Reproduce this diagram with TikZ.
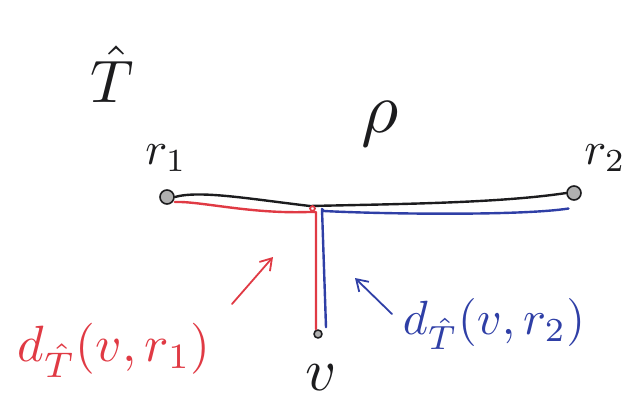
\documentclass[tikz,border=0pt]{standalone}
\usepackage{graphicx}
\usetikzlibrary{calc,arrows.meta}
\newcommand{\Ink}{2.4pt}
\newcommand{\Dot}{7}
\newcommand{\Scrawl}[2]{\scalebox{#1}{$#2$}}
\definecolor{pen}{HTML}{1C1C1E}
\definecolor{redpen}{HTML}{E03A44}
\definecolor{bluepen}{HTML}{2F3FA6}

\tikzset{
  hand/.style={inner sep=0pt},
  vertex/.style={circle, draw=pen, fill=pen!35, line width=1.6pt,
    minimum size=2*\Dot, inner sep=0pt},
  pointer/.style={line width=1.8pt, -{Straight Barb[length=11pt, width=14pt]}}
}

\begin{document}
\begin{tikzpicture}[x=1pt,y=-1pt, line join=round, line cap=round]
  \useasboundingbox (0,0) rectangle (643,405);

  % ---- the tree and its two ends ------------------------------------------
  \node[hand, pen] (tree) at (112,74) {\Scrawl{6}{\hat{T}}};
  \node[vertex] (r1) at (167,197) {};
  \node[vertex] (r2) at (574,193) {};
  \node[hand, pen] (r1lab) at (166,158) {\Scrawl{4.6}{r_1}};
  \node[hand, pen] (r2lab) at (605,158) {\Scrawl{4.6}{r_2}};
  \node[hand, pen] (rho) at (380,124) {\Scrawl{7.2}{\rho}};

  % ---- the path between them, and where v hangs off it --------------------
  \coordinate (p) at (310,206);
  \node[vertex, minimum size=8pt] (v) at (318,334) {};
  \node[hand, pen] (vlab) at (321,378) {\Scrawl{6}{v}};
  \draw[pen, line width=\Ink] (r1.east) .. controls (200,190) and (250,199) .. (p)
    .. controls (400,204) and (500,203) .. (r2.west);
  \draw[redpen, line width=1.6pt, rounded corners=3pt] (p) rectangle ++(5,5);

  % ---- the two distances, red to r1, blue to r2 ---------------------------
  \draw[redpen, line width=\Ink] ($(r1.east)+(0,5)$) .. controls (200,201) and (250,214) .. ($(p)+(-2,6)$)
    -- ($(p)+(6,6)$) -- ($(v.north)+(-2,0)$);
  \draw[bluepen, line width=\Ink] ($(r2.south west)+(0,10)$) .. controls (520,216) and (380,214) .. ($(p)+(14,5)$)
    -- ($(p)+(12,3)$) -- ($(v.north)+(8,-2)$);

  % ---- labels and what they point at --------------------------------------
  \node[hand, redpen] (dred) at (114,350) {\Scrawl{5.1}{d_{\hat{T}}(v,r_1)}};
  \node[hand, bluepen] (dblue) at (494,324) {\Scrawl{4.8}{d_{\hat{T}}(v,r_2)}};
  \coordinate (redtail) at (232,304);
  \coordinate (redtip) at (273,257);
  \coordinate (bluetail) at (392,314);
  \coordinate (bluetip) at (355,278);
  \draw[redpen, pointer] (redtail) -- (redtip);
  \draw[bluepen, pointer] (bluetail) -- (bluetip);

\end{tikzpicture}
\end{document}
